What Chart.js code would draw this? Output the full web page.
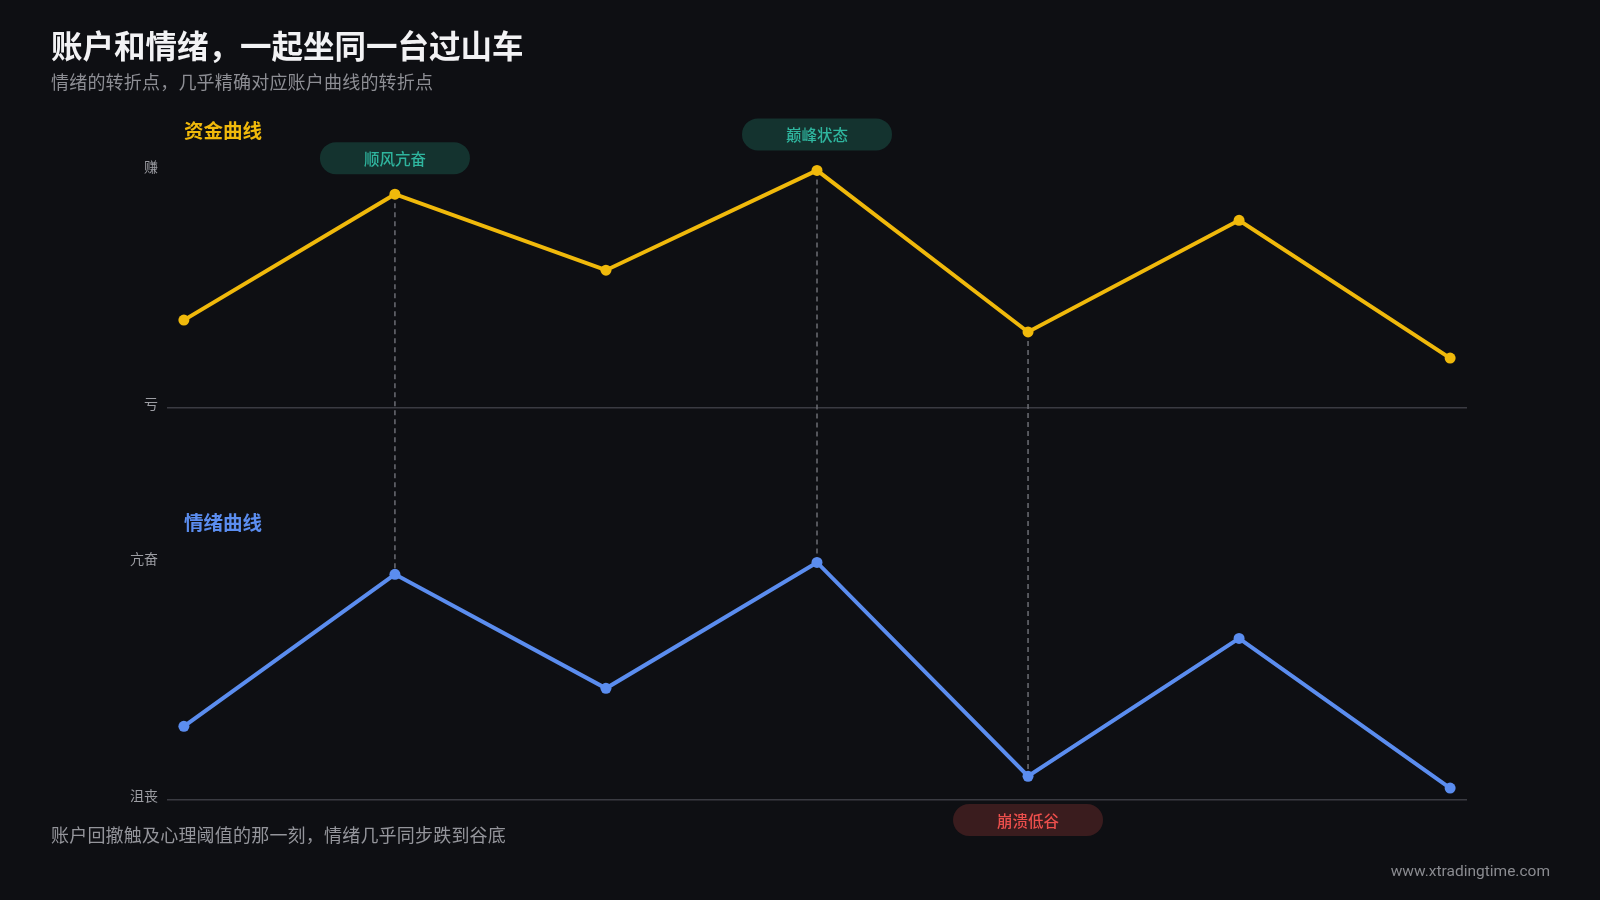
<!DOCTYPE html>
<html lang="zh-CN">
<head>
<meta charset="utf-8">
<title>账户和情绪，一起坐同一台过山车</title>
<script src="https://cdn.jsdelivr.net/npm/chart.js@4.4.1/dist/chart.umd.min.js"></script>
<style>
  html, body { margin: 0; padding: 0; background: #0e0f13; }
  body {
    width: 1600px; height: 900px; position: relative; overflow: hidden;
    font-family: "Noto Sans CJK SC", "Noto Sans", sans-serif;
  }
  #chart { position: absolute; left: 0; top: 0; }
  .txt { position: absolute; line-height: 1; white-space: nowrap; z-index: 2; }
  #title { left: 51px; top: 29px; font-size: 31.5px; font-weight: 700; color: #f2f2f4; }
  #subtitle { left: 51px; top: 72px; font-size: 18px; letter-spacing: 0.2px; color: #8d8e94; }
  .panel { left: 184px; font-size: 19.5px; font-weight: 700; }
  #money-label { top: 120px; color: #f0b90b; }
  #mood-label { top: 511.5px; color: #5b8def; }
  #note { left: 51px; top: 825px; font-size: 18px; letter-spacing: 0.2px; color: #94959b; }
  #site { right: 50px; top: 864px; font-size: 15.5px; color: #8a8b90; font-family: Roboto, "Noto Sans", sans-serif; }
</style>
</head>
<body>
<canvas id="chart" width="1600" height="900"></canvas>
<div class="txt" id="title">账户和情绪，一起坐同一台过山车</div>
<div class="txt" id="subtitle">情绪的转折点，几乎精确对应账户曲线的转折点</div>
<div class="txt panel" id="money-label">资金曲线</div>
<div class="txt panel" id="mood-label">情绪曲线</div>
<div class="txt" id="note">账户回撤触及心理阈值的那一刻，情绪几乎同步跌到谷底</div>
<div class="txt" id="site">www.xtradingtime.com</div>
<script>
// 7 turning points along the time axis
const points = [0, 1, 2, 3, 4, 5, 6];
const money = [37, 90, 58, 100, 32, 79, 21];
const mood = [31, 95, 47, 100, 10, 68, 5];
const moneyTicks = ['亏', '赚'];
const moodTicks = ['沮丧', '亢奋'];
// annotated moments
const markAt = [1, 3, 4];
const markText = ['顺风亢奋', '巅峰状态', '崩溃低谷'];
const markUp = [true, true, false];

const YELLOW = '#f0b90b';
const BLUE = '#5b8def';
const GRID = '#3a3b42';

Chart.defaults.font.family = '"Noto Sans CJK SC", "Noto Sans", sans-serif';

function rowScale(weight, labels) {
  return {
    type: 'linear',
    position: 'left',
    stack: 'rows',
    stackWeight: 1,
    weight: weight,
    min: 0,
    max: 165,
    afterBuildTicks: s => { s.ticks = [{ value: 0 }, { value: 100 }]; },
    afterFit: s => { s.width = 167; s.paddingTop = 0; s.paddingBottom = 0; },
    border: { display: false },
    grid: {
      color: c => (c.tick && c.tick.value === 0) ? GRID : 'transparent',
      lineWidth: 1.5,
      drawTicks: false
    },
    ticks: {
      autoSkip: false,
      color: '#9d9ea4',
      font: { size: 14 },
      padding: 9,
      labelOffset: -4,
      callback: v => labels[v === 100 ? 1 : 0]
    }
  };
}

function lineSet(label, values, axis, color) {
  return {
    label: label,
    data: points.map((p, i) => ({ x: p, y: values[i] })),
    yAxisID: axis,
    borderColor: color,
    backgroundColor: color,
    borderWidth: 4,
    pointRadius: 5.5,
    pointHoverRadius: 5.5,
    pointBorderWidth: 0,
    tension: 0
  };
}

const marks = {
  id: 'marks',
  beforeDatasetsDraw(chart) {
    const { ctx, scales: { x, yMoney, yMood } } = chart;
    ctx.save();
    ctx.strokeStyle = '#6c6d74';
    ctx.lineWidth = 1.5;
    ctx.setLineDash([5, 4]);
    markAt.forEach(i => {
      const px = x.getPixelForValue(points[i]);
      ctx.beginPath();
      ctx.moveTo(px, yMoney.getPixelForValue(money[i]));
      ctx.lineTo(px, yMood.getPixelForValue(mood[i]));
      ctx.stroke();
    });
    ctx.restore();
  },
  afterDatasetsDraw(chart) {
    const { ctx, scales: { x, yMoney, yMood } } = chart;
    ctx.save();
    ctx.font = '500 15.5px "Noto Sans CJK SC", "Noto Sans", sans-serif';
    ctx.textAlign = 'center';
    ctx.textBaseline = 'middle';
    markAt.forEach((i, k) => {
      const cx = x.getPixelForValue(points[i]);
      const cy = markUp[k] ? yMoney.getPixelForValue(money[i]) - 36 : yMood.getPixelForValue(0) + 20;
      const w = 150, h = 32;
      ctx.fillStyle = markUp[k] ? '#14332f' : '#3a1c1e';
      ctx.beginPath();
      ctx.roundRect(cx - w / 2, cy - h / 2, w, h, h / 2);
      ctx.fill();
      ctx.fillStyle = markUp[k] ? '#2fb59e' : '#ec4f4c';
      ctx.fillText(markText[k], cx, cy + 1);
    });
    ctx.restore();
  }
};

new Chart(document.getElementById('chart'), {
  type: 'line',
  data: {
    datasets: [
      lineSet('资金曲线', money, 'yMoney', YELLOW),
      lineSet('情绪曲线', mood, 'yMood', BLUE)
    ]
  },
  options: {
    responsive: false,
    animation: false,
    events: [],
    layout: { padding: { left: 0, right: 133, top: 16, bottom: 100 } },
    scales: {
      x: { type: 'linear', min: -0.08, max: 6.08, display: false },
      yMoney: rowScale(1, moneyTicks),
      yMood: rowScale(0, moodTicks)
    },
    plugins: {
      legend: { display: false },
      tooltip: { enabled: false }
    }
  },
  plugins: [marks]
});
</script>
</body>
</html>
